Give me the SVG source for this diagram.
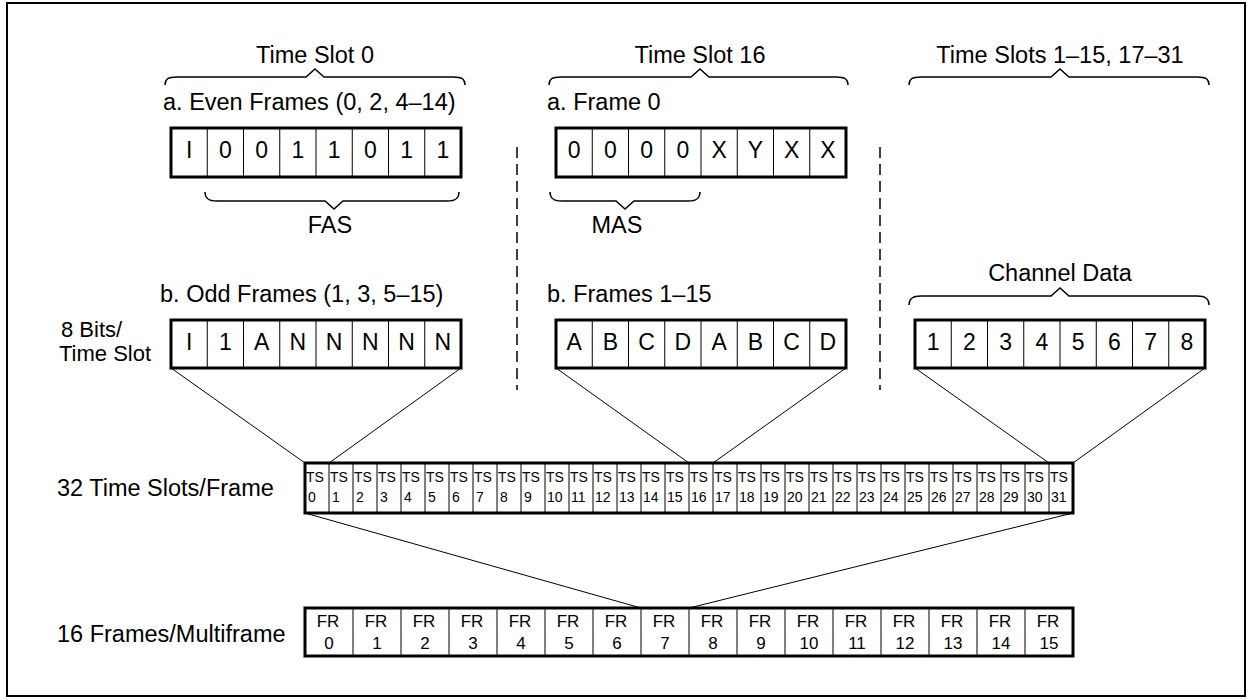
<svg xmlns="http://www.w3.org/2000/svg" width="1253" height="700" viewBox="0 0 1253 700">
<style>
text{font-family:"Liberation Sans",Arial,sans-serif;fill:#000}
.t{font-size:23.5px}
.s{font-size:22px}
.m{text-anchor:middle}
.b{font-size:23px;text-anchor:middle}
.ts{font-size:14px}
.fr{font-size:17px;text-anchor:middle}
.box{fill:#fff;stroke:#000;stroke-width:3}
.div{stroke:#000;stroke-width:1;fill:none}
.br{fill:none;stroke:#000;stroke-width:1.5}
.cn{stroke:#000;stroke-width:1;fill:none}
.dash{stroke:#000;stroke-width:1.5;stroke-dasharray:11 6;fill:none}
</style>
<rect x="7" y="3" width="1238" height="693" fill="#fff" stroke="#000" stroke-width="2"/>

<g id="connectors">
<line class="cn" x1="171" y1="368" x2="305" y2="463"/>
<line class="cn" x1="461" y1="368" x2="329" y2="463"/>
<line class="cn" x1="556" y1="368" x2="689" y2="463"/>
<line class="cn" x1="846" y1="368" x2="713" y2="463"/>
<line class="cn" x1="915" y1="368" x2="1049" y2="463"/>
<line class="cn" x1="1205" y1="368" x2="1073" y2="463"/>
<line class="cn" x1="305" y1="513" x2="641" y2="608"/>
<line class="cn" x1="1073" y1="513" x2="689" y2="608"/>
<line class="dash" x1="517" y1="147" x2="517" y2="390"/>
<line class="dash" x1="880" y1="147" x2="880" y2="390"/>
</g>

<g id="ts0-header">
<text class="t m" x="315" y="63">Time Slot 0</text>
<path class="br" d="M165,85 C165,79 168,77 177,77 L306,77 L315,69 L324,77 L453,77 C462,77 465,79 465,85"/>
</g>
<g id="ts16-header">
<text class="t m" x="700" y="63">Time Slot 16</text>
<path class="br" d="M549,85 C549,79 552,77 561,77 L691,77 L700,69 L709,77 L836,77 C845,77 848,79 848,85"/>
</g>
<g id="ts-others-header">
<text class="t m" x="1060" y="63">Time Slots 1–15, 17–31</text>
<path class="br" d="M909,85 C909,79 912,77 921,77 L1051,77 L1060,69 L1069,77 L1197,77 C1206,77 1209,79 1209,85"/>
</g>

<g id="even-frames">
<text class="t" x="163" y="110">a. Even Frames (0, 2, 4–14)</text>
<rect class="box" x="171" y="128" width="290" height="49"/>
<path class="div" d="M207.25,128V177M243.5,128V177M279.75,128V177M316,128V177M352.25,128V177M388.5,128V177M424.75,128V177"/>
<text class="b" x="189.1" y="158">I</text>
<text class="b" x="225.4" y="158">0</text>
<text class="b" x="261.6" y="158">0</text>
<text class="b" x="297.9" y="158">1</text>
<text class="b" x="334.1" y="158">1</text>
<text class="b" x="370.4" y="158">0</text>
<text class="b" x="406.6" y="158">1</text>
<text class="b" x="442.9" y="158">1</text>
</g>
<g id="fas">
<path class="br" d="M205,192 C205,198 208,201 217,201 L325,201 L334,209 L343,201 L447,201 C456,201 459,198 459,192"/>
<text class="t m" x="330" y="233">FAS</text>
</g>

<g id="frame0">
<text class="t" x="547" y="110">a. Frame 0</text>
<rect class="box" x="556" y="128" width="290" height="49"/>
<path class="div" d="M592.25,128V177M628.5,128V177M664.75,128V177M701,128V177M737.25,128V177M773.5,128V177M809.75,128V177"/>
<text class="b" x="574.1" y="158">0</text>
<text class="b" x="610.4" y="158">0</text>
<text class="b" x="646.6" y="158">0</text>
<text class="b" x="682.9" y="158">0</text>
<text class="b" x="719.1" y="158">X</text>
<text class="b" x="755.4" y="158">Y</text>
<text class="b" x="791.6" y="158">X</text>
<text class="b" x="827.9" y="158">X</text>
</g>
<g id="mas">
<path class="br" d="M550,192 C550,198 553,201 562,201 L616,201 L625,209 L634,201 L688,201 C697,201 700,198 700,192"/>
<text class="t m" x="617" y="233">MAS</text>
</g>

<g id="odd-frames">
<text class="t" x="160" y="302">b. Odd Frames (1, 3, 5–15)</text>
<rect class="box" x="171" y="320" width="290" height="48"/>
<path class="div" d="M207.25,320V368M243.5,320V368M279.75,320V368M316,320V368M352.25,320V368M388.5,320V368M424.75,320V368"/>
<text class="b" x="189.1" y="350">I</text>
<text class="b" x="225.4" y="350">1</text>
<text class="b" x="261.6" y="350">A</text>
<text class="b" x="297.9" y="350">N</text>
<text class="b" x="334.1" y="350">N</text>
<text class="b" x="370.4" y="350">N</text>
<text class="b" x="406.6" y="350">N</text>
<text class="b" x="442.9" y="350">N</text>
</g>

<g id="frames1-15">
<text class="t" x="547" y="302">b. Frames 1–15</text>
<rect class="box" x="556" y="320" width="290" height="48"/>
<path class="div" d="M592.25,320V368M628.5,320V368M664.75,320V368M701,320V368M737.25,320V368M773.5,320V368M809.75,320V368"/>
<text class="b" x="574.1" y="350">A</text>
<text class="b" x="610.4" y="350">B</text>
<text class="b" x="646.6" y="350">C</text>
<text class="b" x="682.9" y="350">D</text>
<text class="b" x="719.1" y="350">A</text>
<text class="b" x="755.4" y="350">B</text>
<text class="b" x="791.6" y="350">C</text>
<text class="b" x="827.9" y="350">D</text>
</g>

<g id="channel-data">
<text class="t m" x="1060" y="281">Channel Data</text>
<path class="br" d="M909,305 C909,299 912,296 921,296 L1051,296 L1060,288 L1069,296 L1197,296 C1206,296 1209,299 1209,305"/>
<rect class="box" x="915" y="320" width="290" height="48"/>
<path class="div" d="M951.25,320V368M987.5,320V368M1023.75,320V368M1060,320V368M1096.25,320V368M1132.5,320V368M1168.75,320V368"/>
<text class="b" x="933.1" y="350">1</text>
<text class="b" x="969.4" y="350">2</text>
<text class="b" x="1005.6" y="350">3</text>
<text class="b" x="1041.9" y="350">4</text>
<text class="b" x="1078.1" y="350">5</text>
<text class="b" x="1114.4" y="350">6</text>
<text class="b" x="1150.6" y="350">7</text>
<text class="b" x="1186.9" y="350">8</text>
</g>

<g id="bits-label">
<text class="s" x="61" y="337">8 Bits/</text>
<text class="s" x="59" y="361">Time Slot</text>
</g>

<g id="ts-row">
<text class="t" x="57" y="496">32 Time Slots/Frame</text>
<rect class="box" x="305" y="463" width="768" height="50"/>
<path class="div" d="M329,463V513M353,463V513M377,463V513M401,463V513M425,463V513M449,463V513M473,463V513M497,463V513M521,463V513M545,463V513M569,463V513M593,463V513M617,463V513M641,463V513M665,463V513M689,463V513M713,463V513M737,463V513M761,463V513M785,463V513M809,463V513M833,463V513M857,463V513M881,463V513M905,463V513M929,463V513M953,463V513M977,463V513M1001,463V513M1025,463V513M1049,463V513"/>
<g class="ts">
<text x="306" y="482">TS</text><text x="308" y="502">0</text>
<text x="330" y="482">TS</text><text x="332" y="502">1</text>
<text x="354" y="482">TS</text><text x="356" y="502">2</text>
<text x="378" y="482">TS</text><text x="380" y="502">3</text>
<text x="402" y="482">TS</text><text x="404" y="502">4</text>
<text x="426" y="482">TS</text><text x="428" y="502">5</text>
<text x="450" y="482">TS</text><text x="452" y="502">6</text>
<text x="474" y="482">TS</text><text x="476" y="502">7</text>
<text x="498" y="482">TS</text><text x="500" y="502">8</text>
<text x="522" y="482">TS</text><text x="524" y="502">9</text>
<text x="546" y="482">TS</text><text x="547" y="502">10</text>
<text x="570" y="482">TS</text><text x="571" y="502">11</text>
<text x="594" y="482">TS</text><text x="595" y="502">12</text>
<text x="618" y="482">TS</text><text x="619" y="502">13</text>
<text x="642" y="482">TS</text><text x="643" y="502">14</text>
<text x="666" y="482">TS</text><text x="667" y="502">15</text>
<text x="690" y="482">TS</text><text x="691" y="502">16</text>
<text x="714" y="482">TS</text><text x="715" y="502">17</text>
<text x="738" y="482">TS</text><text x="739" y="502">18</text>
<text x="762" y="482">TS</text><text x="763" y="502">19</text>
<text x="786" y="482">TS</text><text x="787" y="502">20</text>
<text x="810" y="482">TS</text><text x="811" y="502">21</text>
<text x="834" y="482">TS</text><text x="835" y="502">22</text>
<text x="858" y="482">TS</text><text x="859" y="502">23</text>
<text x="882" y="482">TS</text><text x="883" y="502">24</text>
<text x="906" y="482">TS</text><text x="907" y="502">25</text>
<text x="930" y="482">TS</text><text x="931" y="502">26</text>
<text x="954" y="482">TS</text><text x="955" y="502">27</text>
<text x="978" y="482">TS</text><text x="979" y="502">28</text>
<text x="1002" y="482">TS</text><text x="1003" y="502">29</text>
<text x="1026" y="482">TS</text><text x="1027" y="502">30</text>
<text x="1050" y="482">TS</text><text x="1051" y="502">31</text>
</g>
</g>

<g id="fr-row">
<text class="t" x="57" y="642">16 Frames/Multiframe</text>
<rect class="box" x="305" y="608" width="768" height="48"/>
<path class="div" d="M353,608V656M401,608V656M449,608V656M497,608V656M545,608V656M593,608V656M641,608V656M689,608V656M737,608V656M785,608V656M833,608V656M881,608V656M929,608V656M977,608V656M1025,608V656"/>
<g class="fr">
<text x="328" y="627">FR</text><text x="329" y="649">0</text>
<text x="376" y="627">FR</text><text x="377" y="649">1</text>
<text x="424" y="627">FR</text><text x="425" y="649">2</text>
<text x="472" y="627">FR</text><text x="473" y="649">3</text>
<text x="520" y="627">FR</text><text x="521" y="649">4</text>
<text x="568" y="627">FR</text><text x="569" y="649">5</text>
<text x="616" y="627">FR</text><text x="617" y="649">6</text>
<text x="664" y="627">FR</text><text x="665" y="649">7</text>
<text x="712" y="627">FR</text><text x="713" y="649">8</text>
<text x="760" y="627">FR</text><text x="761" y="649">9</text>
<text x="808" y="627">FR</text><text x="809" y="649">10</text>
<text x="856" y="627">FR</text><text x="857" y="649">11</text>
<text x="904" y="627">FR</text><text x="905" y="649">12</text>
<text x="952" y="627">FR</text><text x="953" y="649">13</text>
<text x="1000" y="627">FR</text><text x="1001" y="649">14</text>
<text x="1048" y="627">FR</text><text x="1049" y="649">15</text>
</g>
</g>
</svg>
